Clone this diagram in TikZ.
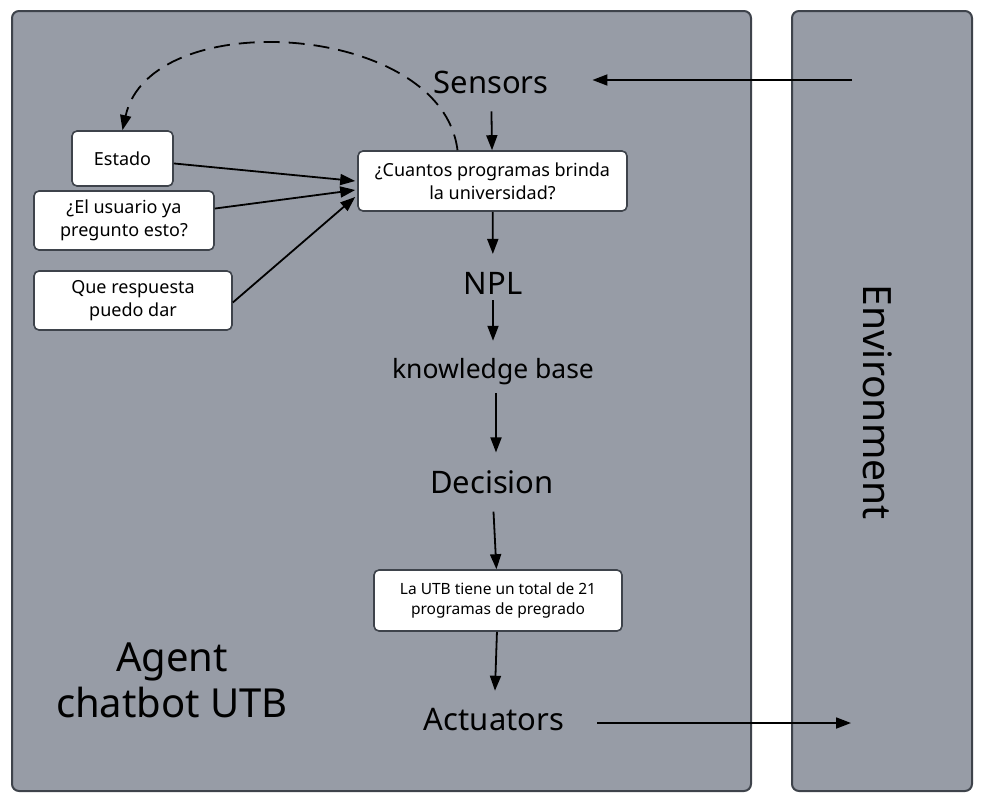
\documentclass[tikz,border=0pt]{standalone}
\usepackage{fontspec}
\setmainfont{Noto Sans}
\usetikzlibrary{arrows.meta}

\definecolor{panelgray}{HTML}{979CA6}
\definecolor{paneledge}{HTML}{3E434B}

\begin{document}
\begin{tikzpicture}[x=1pt, y=-1pt,
    panel/.style={draw=paneledge, line width=2pt, fill=panelgray, rounded corners=7pt},
    card/.style={draw=paneledge, line width=1.6pt, fill=white, rounded corners=5pt,
        align=center, inner sep=0pt, font=\fontsize{18}{23}\selectfont},
    stage/.style={inner sep=0pt, outer sep=18pt, font=\fontsize{31}{36}\selectfont},
    flow/.style={-{Triangle[length=15pt,width=11pt]}, line width=1.8pt}]
    \useasboundingbox (0,0) rectangle (988,801);

    % Panels
    \draw[panel] (12,11) rectangle (751,791);
    \draw[panel] (792,11) rectangle (972,791);

    \node[font=\fontsize{39}{44}\selectfont, rotate=-90] (env) at (878,402) {Environment};
    \node[font=\fontsize{40}{46}\selectfont, align=center] (agent) at (172,680) {Agent\\chatbot UTB};

    % Main pipeline
    \node[stage] (sensors) at (491,82) {Sensors};
    \node[card, minimum width=269pt, minimum height=60pt] (query) at (492.5,181)
        {¿Cuantos programas brinda\\la universidad?};
    \node[stage] (npl) at (493,283) {NPL};
    \node[stage, font=\fontsize{26.5}{30}\selectfont] (kb) at (493,372) {knowledge base};
    \node[stage] (decision) at (492,482) {Decision};
    \node[card, minimum width=248pt, minimum height=61pt, font=\fontsize{15.5}{20}\selectfont]
        (reply) at (498,600.5) {La UTB tiene un total de 21\\programas de pregrado};
    \node[stage] (actuators) at (494,720) {Actuators};

    \draw[flow] (sensors) -- (query);
    \draw[flow] (query) -- (npl);
    \draw[flow] ([yshift=12pt]npl.south) -- (kb);
    \draw[flow] ([xshift=3pt,yshift=10pt]kb.south) -- ([xshift=3pt]kb.south |- decision.north);
    \draw[flow] (decision) -- (reply);
    \draw[flow] (reply) -- (actuators);

    % Environment in and out
    \coordinate (percept) at (852,80);
    \coordinate (action) at (851,723);
    \draw[flow] (percept) -- ([xshift=26pt,yshift=2pt]sensors.east);
    \draw[flow] ([xshift=15pt,yshift=-3pt]actuators.east) -- (action);

    % Internal state
    \node[card, minimum width=101pt, minimum height=55pt] (estado) at (122.5,158.5) {Estado};
    \node[card, minimum width=180pt, minimum height=59pt] (asked) at (124,220.5)
        {¿El usuario ya\\pregunto esto?};
    \node[card, minimum width=198pt, minimum height=59pt] (answer) at (133,300.5)
        {Que respuesta\\puedo dar};

    \draw[flow] (estado) -- ([xshift=-2pt]query.west);
    \draw[flow] (asked) -- ([xshift=-2pt,yshift=-9pt]query.west);
    \draw[flow] ([yshift=-2pt]answer.east) -- ([xshift=-2pt,yshift=-16pt]query.west);

    % Feedback loop
    \draw[flow, dash pattern=on 16pt off 9pt] ([xshift=-35pt]query.north)
        .. controls (442,22) and (150,4) .. (estado.north);
\end{tikzpicture}
\end{document}
